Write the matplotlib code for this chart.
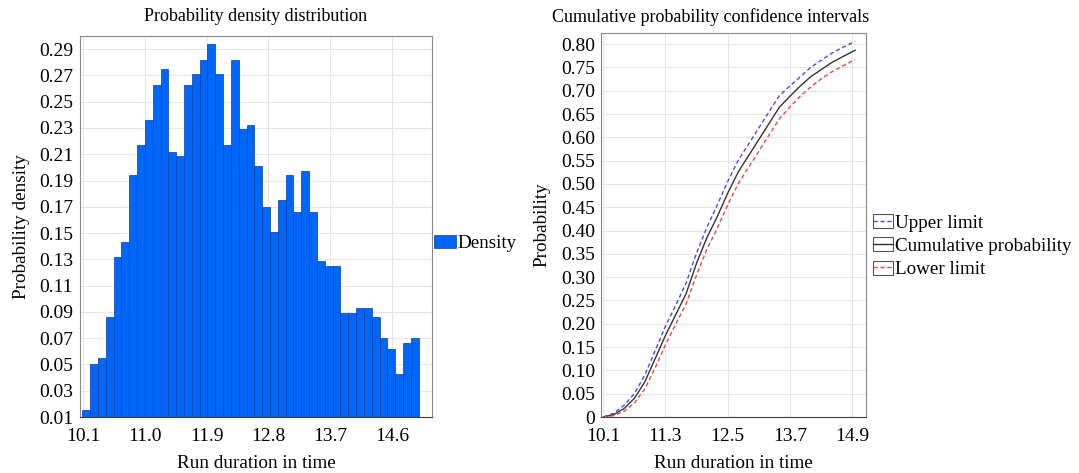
import matplotlib
matplotlib.use("Agg")
import matplotlib.pyplot as plt
import numpy as np
from matplotlib.legend_handler import HandlerLine2D
from matplotlib.patches import Rectangle
from matplotlib.ticker import FuncFormatter

plt.rcParams['font.family'] = ['Liberation Serif', 'DejaVu Serif']

# ---------------- data ----------------
bin_start = 10.09
bin_width = 0.1139
density = [0.015, 0.050, 0.055, 0.086, 0.132, 0.143, 0.194, 0.217, 0.236, 0.263,
           0.275, 0.212, 0.209, 0.263, 0.271, 0.282, 0.294, 0.271, 0.217, 0.282,
           0.229, 0.232, 0.201, 0.170, 0.151, 0.175, 0.194, 0.166, 0.197, 0.166,
           0.129, 0.125, 0.125, 0.089, 0.089, 0.093, 0.093, 0.086, 0.070, 0.062,
           0.043, 0.066, 0.070]

run_time = [10.1, 10.3, 10.5, 10.7, 10.9, 11.1, 11.3, 11.5, 11.7, 11.9, 12.1, 12.3,
            12.5, 12.7, 12.9, 13.1, 13.3, 13.5, 13.7, 13.9, 14.1, 14.3, 14.5, 14.7, 14.96]
cum_prob = [0.0, 0.005, 0.018, 0.040, 0.075, 0.125, 0.175, 0.220, 0.265, 0.330, 0.385,
            0.430, 0.480, 0.525, 0.560, 0.595, 0.630, 0.665, 0.688, 0.710, 0.730, 0.745,
            0.760, 0.772, 0.787]
upper_limit = [0.0, 0.008, 0.025, 0.050, 0.090, 0.142, 0.195, 0.240, 0.288, 0.352, 0.407,
               0.455, 0.505, 0.550, 0.585, 0.620, 0.655, 0.690, 0.710, 0.730, 0.750, 0.765,
               0.780, 0.792, 0.806]
lower_limit = [0.0, 0.003, 0.012, 0.030, 0.060, 0.105, 0.155, 0.200, 0.243, 0.305, 0.360,
               0.405, 0.455, 0.500, 0.535, 0.570, 0.605, 0.640, 0.665, 0.688, 0.708, 0.725,
               0.740, 0.752, 0.767]

left_xticks = [10.1, 11.0, 11.9, 12.8, 13.7, 14.6]
left_yticks = [0.01, 0.03, 0.05, 0.07, 0.09, 0.11, 0.13, 0.15, 0.17, 0.19, 0.21, 0.23,
               0.25, 0.27, 0.29]
right_xticks = [10.1, 11.3, 12.5, 13.7, 14.9]
right_yticks = [0.0, 0.05, 0.10, 0.15, 0.20, 0.25, 0.30, 0.35, 0.40, 0.45, 0.50, 0.55,
                0.60, 0.65, 0.70, 0.75, 0.80]

FS_TICK = 14
FS_LABEL = 13.8
FS_TITLE = 13
FS_LEG = 13.7
GRID = '#e6e6e6'
SPINE = '#8a8a8a'

fig = plt.figure(figsize=(10.79, 4.73), dpi=100)

# ---------------- left: histogram ----------------
ax1 = fig.add_axes([80 / 1079, 1 - 417 / 473, 352 / 1079, 381 / 473])
edges = bin_start + bin_width * np.arange(len(density))
ax1.bar(edges, density, width=bin_width, align='edge', color='#0066f7',
        edgecolor='#0a3fa8', linewidth=0.5, label='Density', zorder=2)
ax1.set_xlim(10.055, 15.183)
ax1.set_ylim(0.01, 0.3)
ax1.set_xticks(left_xticks)
ax1.set_yticks(left_yticks)
ax1.xaxis.set_major_formatter(FuncFormatter(lambda v, p: f'{v:.1f}'))
ax1.yaxis.set_major_formatter(FuncFormatter(lambda v, p: f'{v:.2f}'))
ax1.grid(True, color=GRID, linewidth=0.8, zorder=0)
ax1.set_axisbelow(True)
ax1.tick_params(length=0, labelsize=FS_TICK)
ax1.tick_params(axis='x', pad=8)
ax1.tick_params(axis='y', pad=5)
ax1.set_title('Probability density distribution', fontsize=FS_TITLE, pad=10.5)
ax1.set_xlabel('Run duration in time', fontsize=FS_LABEL, labelpad=7)
ax1.set_ylabel('Probability density', fontsize=FS_LABEL, labelpad=6)
for s in ax1.spines.values():
    s.set_color(SPINE)
ax1.spines['bottom'].set_color('#404040')
ax1.legend(loc='center left', bbox_to_anchor=(1.0, 0.455), frameon=False,
           fontsize=FS_LEG, handlelength=1.15, handleheight=0.65, handletextpad=0.1,
           borderaxespad=0.0, borderpad=0.1)

# ---------------- right: cumulative ----------------
class BoxedLine(HandlerLine2D):
    def create_artists(self, legend, orig_handle, xdescent, ydescent, width,
                       height, fontsize, trans):
        arts = super().create_artists(legend, orig_handle, xdescent, ydescent,
                                      width, height, fontsize, trans)
        rect = Rectangle((-xdescent, -ydescent), width, height, fill=False,
                         edgecolor='#555555', linewidth=0.8, transform=trans)
        return [rect] + list(arts)

ax2 = fig.add_axes([601 / 1079, 1 - 417 / 473, 265 / 1079, 384 / 473])
ax2.plot(run_time, upper_limit, color='#4a4ae0', linestyle=(0, (3, 2)), linewidth=1.0,
         label='Upper limit')
ax2.plot(run_time, cum_prob, color='#333333', linestyle='-', linewidth=1.0,
         label='Cumulative probability')
ax2.plot(run_time, lower_limit, color='#e04848', linestyle=(0, (3, 2)), linewidth=1.0,
         label='Lower limit')
ax2.set_xlim(10.056, 15.17)
ax2.set_ylim(0, 0.824)
ax2.set_xticks(right_xticks)
ax2.set_yticks(right_yticks)
ax2.xaxis.set_major_formatter(FuncFormatter(lambda v, p: f'{v:.1f}'))
ax2.yaxis.set_major_formatter(FuncFormatter(lambda v, p: '0' if abs(v) < 1e-9 else f'{v:.2f}'))
ax2.grid(True, color=GRID, linewidth=0.8, zorder=0)
ax2.set_axisbelow(True)
ax2.tick_params(length=0, labelsize=FS_TICK)
ax2.tick_params(axis='x', pad=8)
ax2.tick_params(axis='y', pad=4)
ax2.set_title('Cumulative probability confidence intervals', fontsize=FS_TITLE, pad=8,
              x=0.415)
ax2.set_xlabel('Run duration in time', fontsize=FS_LABEL, labelpad=7)
ax2.set_ylabel('Probability', fontsize=FS_LABEL, labelpad=8)
for s in ax2.spines.values():
    s.set_color(SPINE)
ax2.spines['bottom'].set_color('#404040')
ax2.legend(loc='center left', bbox_to_anchor=(1.0, 0.445), frameon=False,
           fontsize=FS_LEG, handlelength=1.05, handleheight=0.75, handletextpad=0.12,
           labelspacing=0.3, borderaxespad=0.0, borderpad=0.35,
           handler_map={matplotlib.lines.Line2D: BoxedLine()})

fig.savefig('out.png', dpi=100)
